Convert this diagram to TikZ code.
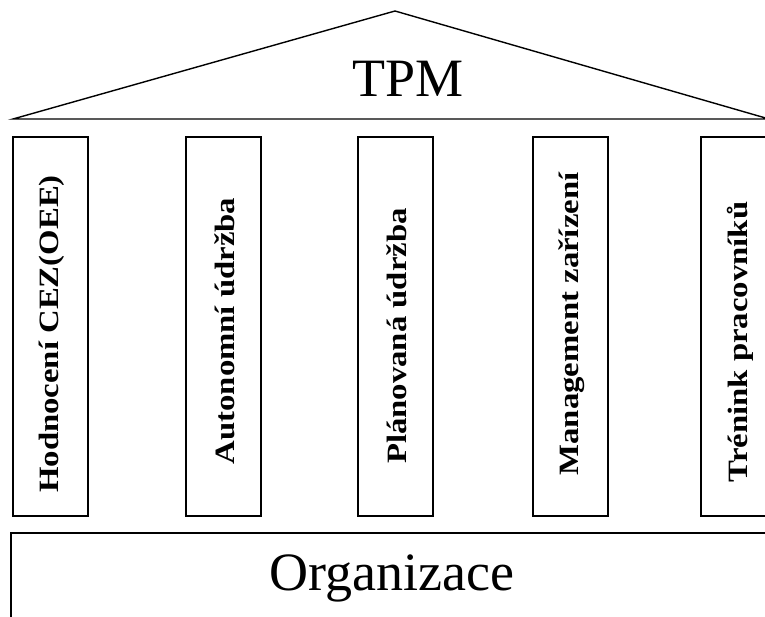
\documentclass[tikz,border=0pt]{standalone}
\usepackage{fontspec}
\setmainfont{Liberation Serif}
\begin{document}
\begin{tikzpicture}[x=1pt,y=-1pt,
  line/.style={line width=1.4pt, line join=miter},
  pillar/.style={draw, line width=1.4pt, rotate=90, minimum width=379pt, minimum height=75pt, inner sep=0pt},
  pillartext/.style={rotate=90, font=\bfseries\fontsize{28}{31}\selectfont, inner sep=0pt},
  bigtext/.style={font=\fontsize{54}{60}\selectfont, inner sep=0pt}]
  \useasboundingbox (0,0) rectangle (765,617);
  \clip (0,0) rectangle (765,617);
  % roof
  \coordinate (roofL) at (13,119);
  \coordinate (apex) at (395,11);
  \coordinate (roofR) at (769,119);
  \draw[line] (roofL) -- (apex) -- (roofR) -- cycle;
  \node[bigtext] (tpm) at (408,79) {TPM};
  % pillars, with their labels set lengthwise
  \foreach \name/\cx/\ty/\txt in {p1/50.5/334/{Hodnocení CEZ(OEE)},
                                   p2/223.5/331/{Autonomní údržba},
                                   p3/395.5/336/{Plánovaná údržba},
                                   p4/570.5/324/{Management zařízení},
                                   p5/738.5/342/{Trénink pracovníků}} {
    \node[pillar] (\name) at (\cx,326.5) {};
    \node[pillartext] (\name t) at (\cx+1.5,\ty) {\scalebox{1.17}[1]{\txt}};
  }
  % foundation
  \coordinate (fTL) at (11,533);
  \coordinate (fTR) at (770,533);
  \coordinate (fBL) at (11,620);
  \draw[line] (fTR) -- (fTL) -- (fBL);
  \node[bigtext] (org) at (392,578) {Organizace};
\end{tikzpicture}
\end{document}
